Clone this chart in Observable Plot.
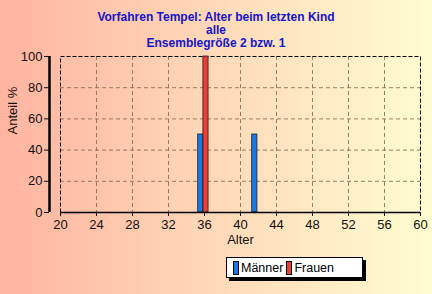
<!DOCTYPE html>
<html>
<head>
<meta charset="utf-8">
<script src="https://cdn.jsdelivr.net/npm/d3@7"></script>
<script src="https://cdn.jsdelivr.net/npm/@observablehq/plot@0.6"></script>
<style>
  html, body { margin: 0; padding: 0; }
  #chart {
    position: relative; width: 432px; height: 294px; overflow: hidden;
    background: linear-gradient(to right, #ffb4a0, #ffd9b8 50%, #fffdd0);
    font-family: "Liberation Sans", Arial, sans-serif;
  }
  #title {
    position: absolute; left: 0; width: 432px; top: 11px; text-align: center;
    font-weight: bold; font-size: 12px; line-height: 13px; color: #1414cc;
  }
  #plot { position: absolute; left: 0; top: 0; }
  #legend {
    position: absolute; left: 226px; top: 257px; width: 129px; height: 19px;
    background: #fff; border: 1px solid #000; box-shadow: 3px 3px 0 #000;
    font-size: 12.5px; color: #000; display: flex; align-items: center; padding-left: 6px; box-sizing: content-box;
  }
  .sw { display: inline-block; width: 4px; height: 12px; border: 1px solid #000; margin-right: 2px; }
  .lab { margin-right: 3px; }
</style>
</head>
<body>
<div id="chart">
  <div id="plot"></div>
  <div id="title"></div>
  <div id="legend"></div>
</div>
<script>
const titleLines = ["Vorfahren Tempel: Alter beim letzten Kind", "alle", "Ensemblegröße 2 bzw. 1"];
const seriesNames = ["Männer", "Frauen"];
const seriesColors = ["#1a78e6", "#e8403a"];
const maennerAges = [36, 42];
const maennerValues = [50, 50];
const frauenAges = [36];
const frauenValues = [100];
const xTicks = [20, 24, 28, 32, 36, 40, 44, 48, 52, 56, 60];
const yTicks = [0, 20, 40, 60, 80, 100];
const xLabel = "Alter";
const yLabel = "Anteil %";

document.getElementById("title").innerHTML = titleLines.join("<br>");
const legend = document.getElementById("legend");
seriesNames.forEach((n, i) => {
  const s = document.createElement("span"); s.className = "sw"; s.style.background = seriesColors[i];
  const t = document.createElement("span"); t.className = "lab"; t.textContent = n;
  legend.appendChild(s); legend.appendChild(t);
});

const maenner = maennerAges.map((a, i) => ({age: a, value: maennerValues[i]}));
const frauen = frauenAges.map((a, i) => ({age: a, value: frauenValues[i]}));

const chart = Plot.plot({
  width: 432, height: 294,
  marginTop: 56, marginBottom: 82, marginLeft: 60, marginRight: 12,
  style: {background: "transparent", fontFamily: "Liberation Sans, Arial, sans-serif", fontSize: "13px", color: "#111"},
  x: {domain: [20, 60]},
  y: {domain: [0, 100]},
  marks: [
    Plot.gridX(xTicks.slice(1, -1), {stroke: "#8a6a50", strokeOpacity: 0.85, strokeDasharray: "4,3"}),
    Plot.gridY(yTicks.slice(1, -1), {stroke: "#8a6a50", strokeOpacity: 0.85, strokeDasharray: "4,3"}),
    Plot.frame({stroke: "#000", strokeDasharray: "4,2"}),
    Plot.rectY(maenner, {x1: d => d.age - 0.7, x2: d => d.age - 0.12, y: "value", fill: seriesColors[0], stroke: "#123", strokeWidth: 0.8}),
    Plot.rectY(frauen, {x1: d => d.age - 0.12, x2: d => d.age + 0.45, y: "value", fill: seriesColors[1], stroke: "#311", strokeWidth: 0.8}),
    Plot.ruleX([20], {y1: 0, y2: 100, dx: -11, stroke: "#000", strokeWidth: 2.5}),
    Plot.ruleY([0], {x1: 20, x2: 60, stroke: "#000", strokeWidth: 1.5}),
    Plot.axisY({ticks: yTicks, tickSize: 5, tickPadding: 2, dx: -11, label: null, fontSize: 13}),
    Plot.axisX({ticks: xTicks, tickSize: 4, tickPadding: 3, label: null, fontSize: 13}),
    Plot.text([xLabel], {frameAnchor: "bottom", dy: 31, fontSize: 13, fill: "#111"}),
    Plot.text([yLabel], {frameAnchor: "left", dx: -48, rotate: -90, fontSize: 13, fill: "#111"})
  ]
});
document.getElementById("plot").appendChild(chart);
</script>
</body>
</html>
